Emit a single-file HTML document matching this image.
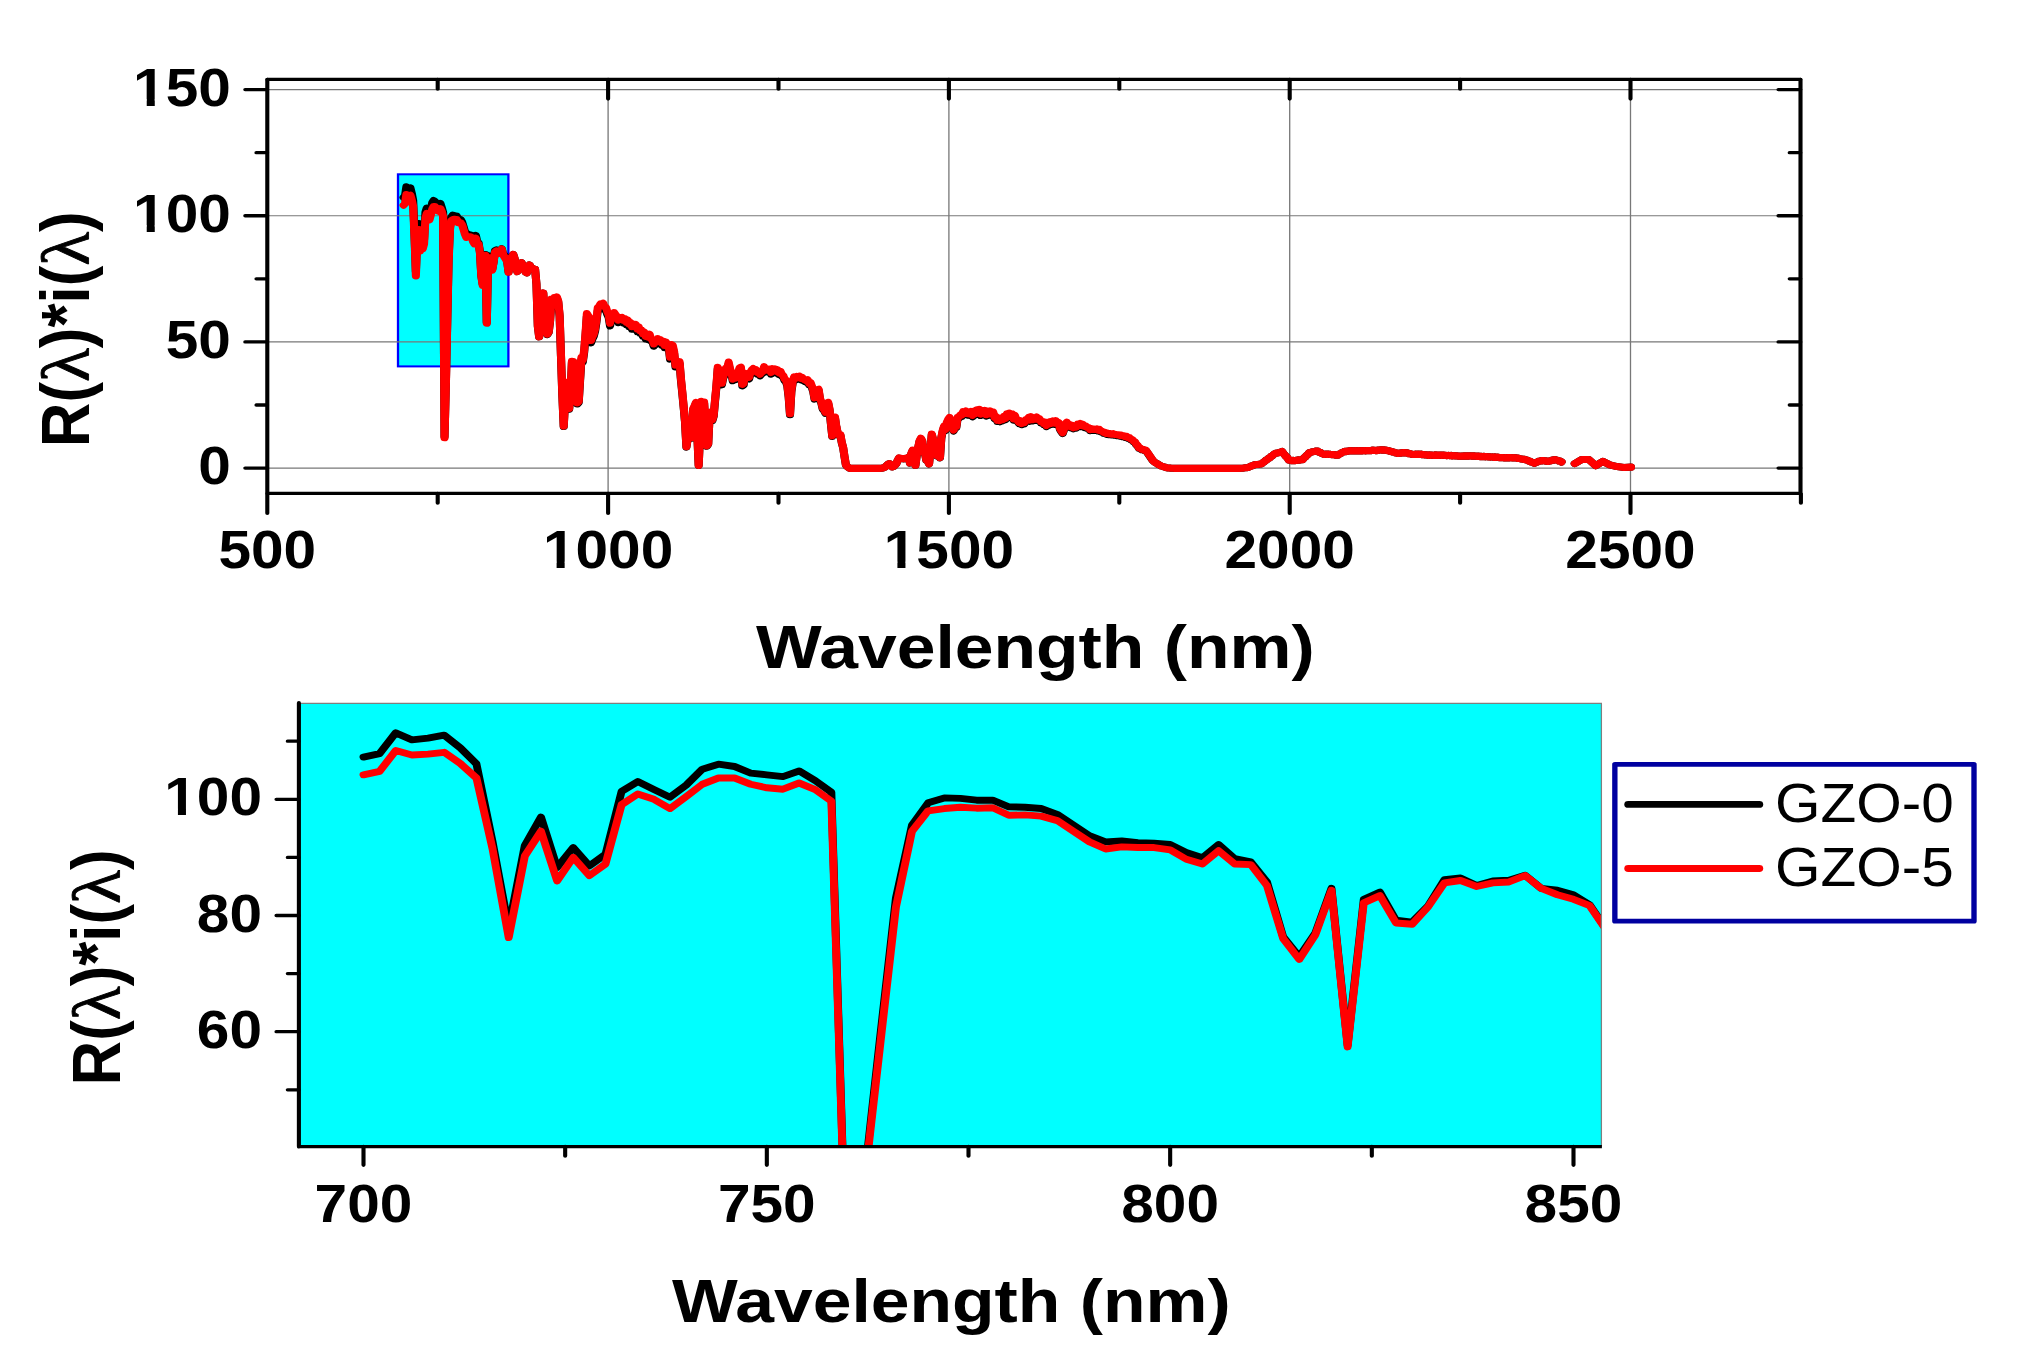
<!DOCTYPE html>
<html lang="en"><head><meta charset="utf-8"><title>R(λ)*i(λ) vs Wavelength</title>
<style>html,body{margin:0;padding:0;background:#fff}body{width:2030px;height:1365px;overflow:hidden}svg{display:block}.b{font-family:"Liberation Sans",sans-serif;font-weight:bold;fill:#000}.r{font-family:"Liberation Sans",sans-serif;font-weight:normal;fill:#000}.lam{font-family:"Liberation Serif","DejaVu Serif",serif;font-weight:normal;font-style:normal;fill:#000}</style></head><body>
<svg width="2030" height="1365" viewBox="0 0 2030 1365">
<rect width="2030" height="1365" fill="#fff"/>
<g id="top-panel">
<g transform="scale(1.14 1)" fill="none">
<rect x="349.12" y="174.3" width="96.84" height="192.1" fill="#00ffff" stroke="#0000ff" stroke-width="2"/>
<path d="M234.47 468.1H1579.39M234.47 341.93H1579.39M234.47 215.77H1579.39M234.47 89.6H1579.39M533.42 79.45V493.45M832.37 79.45V493.45M1131.32 79.45V493.45M1430.26 79.45V493.45" stroke="#787878" stroke-width="1.15"/>
<clipPath id="ct"><rect x="234.47" y="79.45" width="1344.91" height="414"/></clipPath>
<g clip-path="url(#ct)" stroke-linejoin="round" stroke-linecap="round" stroke-width="7.1">
<polyline stroke="#000" points="354.05,197.44 355.25,195.9 356.44,186.89 357.64,189.97 358.84,189.2 360.03,187.89 361.23,193.44 362.42,200.37 363.62,234.26 364.81,271.61 366.01,235.8 367.21,223.47 368.4,245.42 369.6,236.72 370.79,244.65 371.99,239.65 373.19,212.31 374.38,208.07 375.58,211.54 376.77,214.85 377.97,209.61 379.16,202.68 380.36,200.52 381.56,201.52 382.75,204.37 383.95,205.14 385.14,205.91 386.34,203.45 387.53,207.68 388.73,212.69 389.93,436.56 391.12,383.57 392.32,320.49 393.51,258.66 394.71,226.94 395.91,217.31 397.1,215.15 398.3,215.39 399.49,216.16 400.69,216.16 401.88,219.01 403.08,219.24 404.28,219.78 405.47,222.32 406.67,226.94 407.86,231.56 409.06,234.26 410.25,233.87 411.45,234.64 412.65,234.87 413.84,235.41 415.04,238.88 416.23,241.19 417.43,235.41 418.63,241.57 419.82,242.96 421.02,251.67 422.21,275.42 423.41,284.13 424.6,273.84 425.8,254.44 427,322.52 428.19,259.19 429.39,256.02 430.58,268.29 431.78,269.09 432.97,261.96 434.17,250.72 435.37,249.93 436.56,253.25 437.76,251.28 438.95,250.88 440.15,248.74 441.35,254.44 442.54,255.23 443.74,257.21 444.93,261.57 446.13,271.86 447.85,258.13 449.05,256.77 450.24,254.44 451.44,258.78 452.63,266.36 453.83,271.63 455.03,265.89 456.22,264.29 457.42,262.66 458.61,265.06 459.81,265.8 461,272.18 462.2,272.81 463.4,268.4 464.59,264.98 465.79,267.72 466.98,267.95 468.18,269.54 469.37,269.26 470.57,284.06 471.77,326.08 472.96,336.81 474.16,312.49 475.35,298.51 476.55,293.11 477.75,314.66 478.94,323.71 480.14,334.6 481.33,332.41 482.53,321.04 483.72,299.85 484.92,301.58 486.12,298.82 487.31,300.71 488.51,298.34 489.7,302.33 490.9,316.38 492.09,356.41 493.29,395.94 494.49,426.55 495.68,401.36 496.88,383.32 498.07,398.29 499.27,409.32 500.47,394.33 501.66,362.85 502.86,362.98 504.05,374.84 505.25,388.97 506.44,404.03 507.64,402.53 508.84,380.48 510.03,359.48 511.23,361.99 512.42,352.37 513.62,336 514.81,316.34 516.01,318.66 517.21,320.25 518.4,342.86 519.6,339.13 520.79,336.42 521.99,331.19 523.19,322.22 524.38,310.5 525.58,309.19 526.77,307 527.97,307.62 529.16,306.29 530.36,309.8 531.56,310.24 532.75,314.5 533.95,317.54 535.14,325.88 536.34,319.05 537.53,318.53 538.73,315.47 539.93,317.33 541.12,319.14 542.32,322.68 543.51,320.16 544.71,321.75 545.91,320.32 547.1,322.99 548.3,321.51 549.49,324.9 550.69,322.7 551.88,326.7 553.08,325.13 554.28,329.23 555.47,326.69 556.67,328.9 557.86,327.17 559.06,331.64 560.25,329.41 561.45,333.06 562.65,332.62 563.84,336.09 565.04,334.57 566.23,338.8 567.43,337.18 568.63,339.51 569.82,336.66 571.02,341.06 572.21,341.41 573.41,346.24 574.6,342.78 575.8,344.2 577,340.95 578.19,343.55 579.39,342.04 580.58,345.42 581.78,343.6 582.97,347.63 584.17,344.28 585.37,347.99 586.56,347.04 587.76,359.09 588.95,346.79 590.15,347.67 591.35,353.67 592.54,366.93 593.74,365.92 594.93,365.51 596.13,363.54 597.32,380.08 598.52,393.33 599.72,407.46 600.91,422.25 602.11,447.09 603.3,438.49 604.5,425.28 605.69,423.21 606.89,438.14 608.09,409.76 609.28,406.95 610.48,403.48 611.67,435.01 612.87,465.41 614.07,434.69 615.26,402.56 616.46,403.45 617.65,403.31 618.85,427.13 620.04,446.27 621.24,444.17 622.44,416.48 623.63,412.92 624.83,420.76 626.02,416.36 627.22,401.19 628.41,387.5 629.61,369.11 630.81,373.29 632,378.48 633.2,384.8 634.39,378.14 635.59,375.01 636.79,369.82 637.98,369.8 639.18,364.01 640.37,370.56 641.57,374.12 642.76,380.77 643.96,378.97 645.16,379.64 646.35,377.49 647.55,374.29 648.74,369.57 649.94,368.94 651.13,385.87 652.33,384.96 653.53,375.03 654.72,377.45 655.92,377.83 657.11,378.88 658.31,373.94 659.51,371.68 660.7,370.4 661.9,372.78 663.09,371.63 664.29,374.18 665.48,373.74 666.68,375.9 667.88,374.02 669.07,373.25 670.27,368.5 671.46,371.66 672.66,370.85 673.85,372.11 675.05,371.01 676.25,374.19 677.44,370.46 678.64,372.57 679.83,370.83 681.03,373.07 682.23,371.87 683.42,374.42 684.62,373.15 685.81,376.09 687.01,377.17 688.2,380.56 689.4,381.64 690.6,385.79 691.79,396.88 692.99,414.77 694.18,391.91 695.38,382.8 696.57,378.56 697.77,380.03 698.97,378.11 700.16,379.14 701.36,378.03 702.55,379.85 703.75,379.04 704.95,380.74 706.14,381.57 707.34,382.27 708.53,381.38 709.73,384.86 710.92,383.94 712.12,387.42 713.32,391.5 714.51,399.1 715.71,393.45 716.9,391.22 718.1,390.71 719.29,399.57 720.49,403.18 721.69,409.04 722.88,410.6 724.08,413.31 725.27,408.09 726.47,403.45 727.67,410.11 728.86,423.68 730.06,436.4 731.25,430.92 732.45,418.08 733.64,427.33 734.84,433.24 736.04,435.69 737.23,435.51 738.43,442.96 739.62,447.85 740.82,456.86 742.01,464.89 743.21,466.63 744.41,467.65 745.6,468.35 746.8,468.35 747.99,468.35 749.19,468.35 750.39,468.35 751.58,468.35 752.78,468.35 753.97,468.35 755.17,468.35 756.36,468.35 757.56,468.35 758.76,468.35 759.95,468.35 761.15,468.35 762.34,468.35 763.54,468.35 764.73,468.35 765.93,468.35 767.13,468.35 768.32,468.35 769.52,468.35 770.71,468.35 771.91,468.35 773.11,468.32 774.3,467.98 775.5,467.64 776.69,466.77 777.89,465.47 779.08,464.14 780.28,463.69 781.48,465.35 782.67,466.98 783.87,466.5 785.06,465.21 786.26,463.65 787.45,460.55 788.65,458.11 789.85,458.38 791.04,458.64 792.24,458.91 793.43,458.66 794.63,458.39 795.83,458.13 797.02,457.51 798.22,463.03 799.41,453.82 800.61,450.59 801.8,455.42 803,465.29 804.2,455.13 805.39,448.18 806.59,441.59 807.78,438.9 808.98,441.49 810.17,452.58 811.37,453.2 812.57,460.29 813.76,461.01 814.96,464 816.15,450.87 817.35,434.83 818.55,440.15 819.74,449.44 820.94,451.17 822.13,456.05 823.33,453.99 824.52,457.91 825.72,438.26 826.92,431.66 828.11,427.15 829.31,430.7 830.5,423.67 831.7,420.76 832.89,418.71 834.09,424.83 835.29,427.39 836.48,431.01 837.68,427.76 838.87,427.59 840.07,418.34 841.27,418.05 842.46,416.11 843.66,416.4 844.85,413.18 846.05,414.09 847.24,412.4 848.44,415.14 849.64,415.15 850.83,415.43 852.03,412.82 853.22,416.74 854.42,412.49 855.61,415.07 856.81,411.34 858.01,413.76 859.2,410.85 860.4,415.49 861.59,411.74 862.79,414.3 863.99,411.87 865.18,416.06 866.38,412.62 867.57,415.32 868.77,412.45 869.96,415.49 871.16,413.31 872.36,418.52 873.55,417.75 874.75,421.43 875.94,419.81 877.14,421.7 878.33,419.08 879.53,420.71 880.73,417.66 881.92,419.71 883.12,415.34 884.31,417.78 885.51,414.54 886.71,417.82 887.9,415.19 889.1,420.06 890.29,416.75 891.49,420.63 892.68,421.84 893.88,423.59 895.08,422.01 896.27,424.67 897.47,423.02 898.66,423.71 899.86,420.83 901.05,420.69 902.25,418.73 903.45,421.31 904.64,418.03 905.84,420.87 907.03,419.59 908.23,420.33 909.43,418.36 910.62,420.77 911.82,419.94 913.01,422.84 914.21,422.52 915.4,424.52 916.6,423.38 917.8,426.62 918.99,423.48 920.19,425.08 921.38,422.94 922.58,424.26 923.77,422.12 924.97,424.18 926.17,421.83 927.36,424.5 928.56,423.56 929.75,429.33 930.95,431.7 932.15,433.58 933.34,429.84 934.54,425 935.73,423.36 936.93,427.05 938.12,425.59 939.32,427.71 940.52,426.62 941.71,428.7 942.91,426.72 944.1,428.05 945.3,425.32 946.49,426.64 947.69,424.62 948.89,426.54 950.08,425.62 951.28,427.52 952.47,427.08 953.67,428.48 954.87,428.47 956.06,430.59 957.26,429.56 958.45,430.46 959.65,429.97 960.84,430.5 962.04,429.94 963.24,431.02 964.43,430.45 965.63,431.82 966.82,432.2 968.02,433.26 969.21,433.32 970.41,434.31 971.61,433.97 972.8,434.74 974,434.32 975.19,435.01 976.39,434.48 977.59,435.32 978.78,435.38 979.98,435.69 981.17,435.73 982.37,436.15 983.56,435.89 984.76,436.73 985.96,436.51 987.15,437.51 988.35,437.22 989.54,438.4 990.74,438.36 991.93,439.83 993.13,440.23 994.33,441.73 995.52,442.53 996.72,444.8 997.91,446.02 999.11,448.37 1000.31,448.71 1001.5,449.72 1002.7,449.66 1003.89,450.7 1005.09,450.56 1006.28,452.36 1007.48,454.35 1008.68,456.35 1009.87,458.34 1011.07,460.33 1012.26,461.68 1013.46,462.53 1014.65,463.38 1015.85,464.23 1017.05,465.08 1018.24,465.83 1019.44,466.27 1020.63,466.72 1021.83,467.16 1023.03,467.6 1024.22,468.01 1025.42,468.08 1026.61,468.14 1027.81,468.21 1029,468.28 1030.2,468.35 1031.4,468.35 1032.59,468.35 1033.79,468.35 1034.98,468.35 1036.18,468.35 1037.37,468.35 1038.57,468.35 1039.77,468.35 1040.96,468.35 1042.16,468.35 1043.35,468.35 1044.55,468.35 1045.75,468.35 1046.94,468.35 1048.14,468.35 1049.33,468.35 1050.53,468.35 1051.72,468.35 1052.92,468.35 1054.12,468.35 1055.31,468.35 1056.51,468.35 1057.7,468.35 1058.9,468.35 1060.09,468.35 1061.29,468.35 1062.49,468.35 1063.68,468.35 1064.88,468.35 1066.07,468.35 1067.27,468.35 1068.47,468.35 1069.66,468.35 1070.86,468.35 1072.05,468.35 1073.25,468.35 1074.44,468.35 1075.64,468.35 1076.84,468.35 1078.03,468.35 1079.23,468.35 1080.42,468.35 1081.62,468.35 1082.81,468.35 1084.01,468.35 1085.21,468.35 1086.4,468.35 1087.6,468.35 1088.79,468.32 1089.99,468.15 1091.19,467.98 1092.38,467.81 1093.58,467.64 1094.77,467.46 1095.97,466.88 1097.16,466.3 1098.36,465.71 1099.56,465.13 1100.75,464.75 1101.95,464.58 1103.14,464.41 1104.34,464.24 1105.53,464.07 1106.73,463.61 1107.93,462.43 1109.12,461.68 1110.32,460.36 1111.51,459.64 1112.71,458.39 1113.91,457.76 1115.1,456.31 1116.3,455.63 1117.49,454.14 1118.69,453.57 1119.88,452.94 1121.08,452.98 1122.28,452.27 1123.47,452.29 1124.67,451.44 1125.86,453.54 1127.06,454.94 1128.25,456.7 1129.45,457.99 1130.65,460.18 1131.84,460.22 1133.04,460.7 1134.23,460.28 1135.43,460.74 1136.63,460.4 1137.82,460.39 1139.02,459.81 1140.21,460.15 1141.41,459.45 1142.6,459.67 1143.8,457.93 1145,457.03 1146.19,455.23 1147.39,454.31 1148.58,452.51 1149.78,452.45 1150.97,451.74 1152.17,451.67 1153.37,451.35 1154.56,450.99 1155.76,451.08 1156.95,452.32 1158.15,452.38 1159.35,453.54 1160.54,453.86 1161.74,454.46 1162.93,454.02 1164.13,454.4 1165.32,454 1166.52,454.41 1167.72,454.5 1168.91,454.8 1170.11,454.46 1171.3,455.09 1172.5,455.18 1173.69,455.24 1174.89,454.03 1176.09,453.53 1177.28,452.48 1178.48,452.04 1179.67,451.21 1180.87,451.59 1182.07,451.01 1183.26,451.12 1184.46,450.59 1185.65,450.98 1186.85,450.77 1188.04,451.04 1189.24,450.66 1190.44,451.03 1191.63,450.66 1192.83,450.97 1194.02,450.63 1195.22,450.94 1196.41,450.61 1197.61,450.93 1198.81,450.48 1200,450.77 1201.2,450.43 1202.39,450.72 1203.59,450.16 1204.79,450.5 1205.98,450.22 1207.18,450.73 1208.37,449.98 1209.57,450.35 1210.76,449.83 1211.96,450.11 1213.16,449.7 1214.35,450.3 1215.55,450.1 1216.74,450.64 1217.94,450.49 1219.13,451.25 1220.33,451.26 1221.53,452.06 1222.72,452.06 1223.92,452.89 1225.11,452.91 1226.31,453.48 1227.51,453.02 1228.7,453.21 1229.9,452.66 1231.09,452.96 1232.29,452.47 1233.48,453.02 1234.68,452.9 1235.88,453.75 1237.07,453.66 1238.27,454.24 1239.46,454.38 1240.66,454.47 1241.85,454.04 1243.05,454.52 1244.25,454.15 1245.44,454.47 1246.64,454.12 1247.83,454.76 1249.03,454.49 1250.23,455.06 1251.42,454.69 1252.62,455.36 1253.81,454.93 1255.01,455.33 1256.2,455.04 1257.4,455.42 1258.6,454.93 1259.79,455.35 1260.99,454.94 1262.18,455.4 1263.38,455.02 1264.57,455.42 1265.77,454.97 1266.97,455.36 1268.16,455.19 1269.36,455.69 1270.55,455.35 1271.75,455.76 1272.95,455.42 1274.14,455.97 1275.34,455.59 1276.53,456 1277.73,455.75 1278.92,456.13 1280.12,456.14 1281.32,456.2 1282.51,455.94 1283.71,456.23 1284.9,455.87 1286.1,456.19 1287.29,455.75 1288.49,456.19 1289.69,455.86 1290.88,456.18 1292.08,455.79 1293.27,456.32 1294.47,456.04 1295.67,456.43 1296.86,456.06 1298.06,456.59 1299.25,456.25 1300.45,456.8 1301.64,456.33 1302.84,456.85 1304.04,456.55 1305.23,456.91 1306.43,456.71 1307.62,457.11 1308.82,456.84 1310.01,457.35 1311.21,456.91 1312.41,457.4 1313.6,457.09 1314.8,457.59 1315.99,457.58 1317.19,457.74 1318.39,457.48 1319.58,457.92 1320.78,457.65 1321.97,457.98 1323.17,457.52 1324.36,457.94 1325.56,457.58 1326.76,458.04 1327.95,457.54 1329.15,457.99 1330.34,457.87 1331.54,458.5 1332.73,458.32 1333.93,458.91 1335.13,459.05 1336.32,459.41 1337.52,459.24 1338.71,460.03 1339.91,460.25 1341.11,461.1 1342.3,461.21 1343.5,462.18 1344.69,462.52 1345.89,463.3 1347.08,462.44 1348.28,462.28 1349.48,461.36 1350.67,461.23 1351.87,460.5 1353.06,460.83 1354.26,460.58 1355.45,461.11 1356.65,460.89 1357.85,461.42 1359.04,460.89 1360.24,461.01 1361.43,460.13 1362.63,460.26 1363.83,459.51 1365.02,460.07 1366.22,460.18 1367.41,461.02 1368.61,461.14 1369.8,462"/>
<polyline stroke="#000" points="1381.34,463.6 1387.51,459.56 1393.68,459.56 1399.85,465.71 1406.02,461.32 1412.18,464.84 1418.35,466.59 1424.52,467.47 1430.69,467.12"/>
<polyline stroke="#ff0000" points="354.05,205.14 355.25,203.6 356.44,194.59 357.64,196.52 358.84,196.13 360.03,195.36 361.23,200.21 362.42,206.53 363.62,237.34 364.81,275.85 366.01,240.42 367.21,229.63 368.4,251.2 369.6,241.03 370.79,248.89 371.99,243.88 373.19,218.08 374.38,213.46 375.58,215.77 376.77,219.78 377.97,214.62 379.16,209.22 380.36,206.53 381.56,206.53 382.75,209.22 383.95,210.76 385.14,211.38 386.34,208.69 387.53,211.54 388.73,216.54 389.93,437.82 391.12,385.59 392.32,324.02 393.51,262.7 394.71,229.63 395.91,220.78 397.1,219.78 398.3,219.24 399.49,219.62 400.69,219.47 401.88,222.7 403.08,222.55 404.28,223.09 405.47,225.01 406.67,229.63 407.86,234.26 409.06,237.34 410.25,236.41 411.45,236.72 412.65,236.72 413.84,237.72 415.04,241.8 416.23,243.88 417.43,238.11 418.63,243.88 419.82,244.15 421.02,253.25 422.21,276.21 423.41,285.31 424.6,274.63 425.8,255.23 427,323.31 428.19,260.77 429.39,257.61 430.58,269.48 431.78,270.04 432.97,262.36 434.17,252.07 435.37,251.04 436.56,253.65 437.76,252.07 438.95,251.67 440.15,248.9 441.35,254.44 442.54,257.21 443.74,259.19 444.93,261.96 446.13,272.25 447.85,258.13 449.05,256.77 450.24,254.44 451.44,258.78 452.63,266.36 453.83,271.63 455.03,265.89 456.22,264.29 457.42,262.66 458.61,265.06 459.81,265.8 461,272.18 462.2,272.81 463.4,268.4 464.59,264.98 465.79,267.72 466.98,267.95 468.18,269.54 469.37,269.26 470.57,284.06 471.77,326.08 472.96,336.81 474.16,312.45 475.35,298.37 476.55,292.86 477.75,314.34 478.94,323.33 480.14,334.16 481.33,331.88 482.53,320.38 483.72,299 484.92,300.63 486.12,297.75 487.31,299.56 488.51,297.06 489.7,300.99 490.9,315.05 492.09,355.37 493.29,395.22 494.49,426.11 495.68,400.61 496.88,382.32 498.07,397.42 499.27,408.56 500.47,393.32 501.66,361.35 502.86,361.42 504.05,373.39 505.25,387.69 506.44,402.96 507.64,401.39 508.84,378.9 510.03,357.49 511.23,360.05 512.42,350.25 513.62,333.58 514.81,313.56 516.01,315.92 517.21,317.54 518.4,340.56 519.6,336.77 520.79,334 521.99,328.68 523.19,319.55 524.38,307.61 525.58,306.27 526.77,304.05 527.97,304.68 529.16,303.33 530.36,306.9 531.56,307.35 532.75,311.68 533.95,314.78 535.14,323.27 536.34,316.32 537.53,315.79 538.73,312.67 539.93,314.56 541.12,316.41 542.32,320.02 543.51,317.44 544.71,319.06 545.91,317.61 547.1,320.33 548.3,318.82 549.49,322.28 550.69,320.04 551.88,324.1 553.08,322.51 554.28,326.69 555.47,324.1 556.67,326.35 557.86,324.59 559.06,329.14 560.25,326.86 561.45,330.59 562.65,330.13 563.84,333.68 565.04,332.12 566.23,336.43 567.43,334.78 568.63,337.16 569.82,334.25 571.02,338.73 572.21,339.09 573.41,344 574.6,340.49 575.8,341.93 577,338.62 578.19,341.27 579.39,339.73 580.58,343.17 581.78,341.31 582.97,345.42 584.17,342.01 585.37,345.79 586.56,344.82 587.76,357.09 588.95,344.56 590.15,345.46 591.35,351.57 592.54,365.07 593.74,364.05 594.93,363.63 596.13,361.63 597.32,378.46 598.52,391.96 599.72,406.34 600.91,421.41 602.11,446.7 603.3,437.95 604.5,424.49 605.69,422.39 606.89,437.6 608.09,408.69 609.28,405.83 610.48,402.29 611.67,434.41 612.87,465.36 614.07,434.08 615.26,401.36 616.46,402.26 617.65,402.12 618.85,426.38 620.04,445.87 621.24,443.73 622.44,415.54 623.63,411.91 624.83,419.89 626.02,415.41 627.22,399.96 628.41,386.02 629.61,367.3 630.81,371.55 632,376.84 633.2,383.27 634.39,376.49 635.59,373.3 636.79,368.02 637.98,368 639.18,362.1 640.37,368.77 641.57,372.4 642.76,379.17 643.96,377.34 645.16,378.02 646.35,375.83 647.55,372.57 648.74,367.77 649.94,367.13 651.13,384.37 652.33,383.44 653.53,373.32 654.72,375.79 655.92,376.18 657.11,377.24 658.31,372.21 659.51,369.91 660.7,368.6 661.9,371.03 663.09,369.86 664.29,372.46 665.48,372.01 666.68,374.21 667.88,372.3 669.07,371.51 670.27,366.68 671.46,369.89 672.66,369.06 673.85,370.35 675.05,369.23 676.25,372.47 677.44,368.67 678.64,370.82 679.83,369.05 681.03,371.33 682.23,370.11 683.42,372.71 684.62,371.41 685.81,374.4 687.01,375.5 688.2,378.95 689.4,380.06 690.6,384.28 691.79,395.57 692.99,413.8 694.18,390.51 695.38,381.24 696.57,376.92 697.77,378.41 698.97,376.46 700.16,377.51 701.36,376.38 702.55,378.23 703.75,377.41 704.95,379.14 706.14,379.98 707.34,380.7 708.53,379.79 709.73,383.33 710.92,382.4 712.12,385.94 713.32,390.1 714.51,397.84 715.71,392.09 716.9,389.81 718.1,389.29 719.29,398.32 720.49,401.99 721.69,407.95 722.88,409.55 724.08,412.31 725.27,406.99 726.47,402.27 727.67,409.05 728.86,422.86 730.06,435.82 731.25,430.24 732.45,417.16 733.64,426.58 734.84,432.6 736.04,435.1 737.23,434.91 738.43,442.5 739.62,447.48 740.82,456.65 742.01,464.83 743.21,466.63 744.41,467.65 745.6,468.35 746.8,468.35 747.99,468.35 749.19,468.35 750.39,468.35 751.58,468.35 752.78,468.35 753.97,468.35 755.17,468.35 756.36,468.35 757.56,468.35 758.76,468.35 759.95,468.35 761.15,468.35 762.34,468.35 763.54,468.35 764.73,468.35 765.93,468.35 767.13,468.35 768.32,468.35 769.52,468.35 770.71,468.35 771.91,468.35 773.11,468.32 774.3,467.98 775.5,467.64 776.69,466.77 777.89,465.41 779.08,464.04 780.28,463.57 781.48,465.28 782.67,466.98 783.87,466.5 785.06,465.14 786.26,463.53 787.45,460.35 788.65,457.86 789.85,458.13 791.04,458.4 792.24,458.67 793.43,458.42 794.63,458.14 795.83,457.87 797.02,457.24 798.22,462.9 799.41,453.45 800.61,450.14 801.8,455.1 803,465.22 804.2,454.8 805.39,447.67 806.59,440.91 807.78,438.16 808.98,440.81 810.17,452.18 811.37,452.82 812.57,460.09 813.76,460.83 814.96,463.9 816.15,450.43 817.35,433.98 818.55,439.43 819.74,448.96 820.94,450.73 822.13,455.74 823.33,453.63 824.52,457.65 825.72,437.49 826.92,430.72 828.11,426.1 829.31,429.74 830.5,422.53 831.7,419.55 832.89,417.44 834.09,423.72 835.29,426.35 836.48,430.06 837.68,426.73 838.87,426.56 840.07,417.07 841.27,416.76 842.46,414.77 843.66,415.07 844.85,411.78 846.05,412.7 847.24,410.97 848.44,413.78 849.64,413.79 850.83,414.08 852.03,411.41 853.22,415.42 854.42,411.06 855.61,413.71 856.81,409.89 858.01,412.36 859.2,409.38 860.4,414.14 861.59,410.29 862.79,412.92 863.99,410.43 865.18,414.72 866.38,411.19 867.57,413.97 868.77,411.02 869.96,414.14 871.16,411.9 872.36,417.25 873.55,416.46 874.75,420.24 875.94,418.57 877.14,420.51 878.33,417.82 879.53,419.5 880.73,416.37 881.92,418.47 883.12,413.99 884.31,416.49 885.51,413.16 886.71,416.53 887.9,413.83 889.1,418.83 890.29,415.43 891.49,419.41 892.68,420.66 893.88,422.45 895.08,420.83 896.27,423.56 897.47,421.87 898.66,422.57 899.86,419.61 901.05,419.48 902.25,417.47 903.45,420.11 904.64,416.74 905.84,419.66 907.03,418.35 908.23,419.11 909.43,417.08 910.62,419.56 911.82,418.7 913.01,421.68 914.21,421.35 915.4,423.4 916.6,422.24 917.8,425.55 918.99,422.34 920.19,423.97 921.38,421.78 922.58,423.14 923.77,420.94 924.97,423.05 926.17,420.64 927.36,423.38 928.56,422.42 929.75,428.34 930.95,430.76 932.15,432.69 933.34,428.85 934.54,423.9 935.73,422.22 936.93,425.99 938.12,424.5 939.32,426.67 940.52,425.56 941.71,427.69 942.91,425.66 944.1,427.02 945.3,424.22 946.49,425.58 947.69,423.51 948.89,425.47 950.08,424.53 951.28,426.48 952.47,426.03 953.67,427.46 954.87,427.46 956.06,429.63 957.26,428.58 958.45,429.5 959.65,428.99 960.84,429.53 962.04,428.96 963.24,430.07 964.43,429.48 965.63,430.89 966.82,431.28 968.02,432.36 969.21,432.42 970.41,433.44 971.61,433.1 972.8,433.88 974,433.45 975.19,434.16 976.39,433.62 977.59,434.48 978.78,434.54 979.98,434.86 981.17,434.9 982.37,435.33 983.56,435.06 984.76,435.92 985.96,435.7 987.15,436.73 988.35,436.43 989.54,437.64 990.74,437.6 991.93,439.1 993.13,439.52 994.33,441.05 995.52,441.88 996.72,444.2 997.91,445.45 999.11,447.86 1000.31,448.21 1001.5,449.25 1002.7,449.18 1003.89,450.26 1005.09,450.11 1006.28,451.95 1007.48,454 1008.68,456.04 1009.87,458.09 1011.07,460.13 1012.26,461.68 1013.46,462.53 1014.65,463.38 1015.85,464.23 1017.05,465.08 1018.24,465.83 1019.44,466.27 1020.63,466.72 1021.83,467.16 1023.03,467.6 1024.22,468.01 1025.42,468.08 1026.61,468.14 1027.81,468.21 1029,468.28 1030.2,468.35 1031.4,468.35 1032.59,468.35 1033.79,468.35 1034.98,468.35 1036.18,468.35 1037.37,468.35 1038.57,468.35 1039.77,468.35 1040.96,468.35 1042.16,468.35 1043.35,468.35 1044.55,468.35 1045.75,468.35 1046.94,468.35 1048.14,468.35 1049.33,468.35 1050.53,468.35 1051.72,468.35 1052.92,468.35 1054.12,468.35 1055.31,468.35 1056.51,468.35 1057.7,468.35 1058.9,468.35 1060.09,468.35 1061.29,468.35 1062.49,468.35 1063.68,468.35 1064.88,468.35 1066.07,468.35 1067.27,468.35 1068.47,468.35 1069.66,468.35 1070.86,468.35 1072.05,468.35 1073.25,468.35 1074.44,468.35 1075.64,468.35 1076.84,468.35 1078.03,468.35 1079.23,468.35 1080.42,468.35 1081.62,468.35 1082.81,468.35 1084.01,468.35 1085.21,468.35 1086.4,468.35 1087.6,468.35 1088.79,468.32 1089.99,468.15 1091.19,467.98 1092.38,467.81 1093.58,467.64 1094.77,467.46 1095.97,466.88 1097.16,466.3 1098.36,465.71 1099.56,465.13 1100.75,464.75 1101.95,464.58 1103.14,464.41 1104.34,464.24 1105.53,464.07 1106.73,463.61 1107.93,462.43 1109.12,461.68 1110.32,460.36 1111.51,459.64 1112.71,458.39 1113.91,457.76 1115.1,456.31 1116.3,455.63 1117.49,454.14 1118.69,453.57 1119.88,452.94 1121.08,452.98 1122.28,452.27 1123.47,452.29 1124.67,451.44 1125.86,453.54 1127.06,454.94 1128.25,456.7 1129.45,457.99 1130.65,460.18 1131.84,460.22 1133.04,460.7 1134.23,460.28 1135.43,460.74 1136.63,460.4 1137.82,460.39 1139.02,459.81 1140.21,460.15 1141.41,459.45 1142.6,459.67 1143.8,457.93 1145,457.03 1146.19,455.23 1147.39,454.31 1148.58,452.51 1149.78,452.45 1150.97,451.74 1152.17,451.67 1153.37,451.35 1154.56,450.99 1155.76,451.08 1156.95,452.32 1158.15,452.38 1159.35,453.54 1160.54,453.86 1161.74,454.46 1162.93,454.02 1164.13,454.4 1165.32,454 1166.52,454.41 1167.72,454.5 1168.91,454.8 1170.11,454.46 1171.3,455.09 1172.5,455.18 1173.69,455.24 1174.89,454.03 1176.09,453.53 1177.28,452.48 1178.48,452.04 1179.67,451.21 1180.87,451.59 1182.07,451.01 1183.26,451.12 1184.46,450.59 1185.65,450.98 1186.85,450.77 1188.04,451.04 1189.24,450.66 1190.44,451.03 1191.63,450.66 1192.83,450.97 1194.02,450.63 1195.22,450.94 1196.41,450.61 1197.61,450.93 1198.81,450.48 1200,450.77 1201.2,450.43 1202.39,450.72 1203.59,450.16 1204.79,450.5 1205.98,450.22 1207.18,450.73 1208.37,449.98 1209.57,450.35 1210.76,449.83 1211.96,450.11 1213.16,449.7 1214.35,450.3 1215.55,450.1 1216.74,450.64 1217.94,450.49 1219.13,451.25 1220.33,451.26 1221.53,452.06 1222.72,452.06 1223.92,452.89 1225.11,452.91 1226.31,453.48 1227.51,453.02 1228.7,453.21 1229.9,452.66 1231.09,452.96 1232.29,452.47 1233.48,453.02 1234.68,452.9 1235.88,453.75 1237.07,453.66 1238.27,454.24 1239.46,454.38 1240.66,454.47 1241.85,454.04 1243.05,454.52 1244.25,454.15 1245.44,454.47 1246.64,454.12 1247.83,454.76 1249.03,454.49 1250.23,455.06 1251.42,454.69 1252.62,455.36 1253.81,454.93 1255.01,455.33 1256.2,455.04 1257.4,455.42 1258.6,454.93 1259.79,455.35 1260.99,454.94 1262.18,455.4 1263.38,455.02 1264.57,455.42 1265.77,454.97 1266.97,455.36 1268.16,455.19 1269.36,455.69 1270.55,455.35 1271.75,455.76 1272.95,455.42 1274.14,455.97 1275.34,455.59 1276.53,456 1277.73,455.75 1278.92,456.13 1280.12,456.14 1281.32,456.2 1282.51,455.94 1283.71,456.23 1284.9,455.87 1286.1,456.19 1287.29,455.75 1288.49,456.19 1289.69,455.86 1290.88,456.18 1292.08,455.79 1293.27,456.32 1294.47,456.04 1295.67,456.43 1296.86,456.06 1298.06,456.59 1299.25,456.25 1300.45,456.8 1301.64,456.33 1302.84,456.85 1304.04,456.55 1305.23,456.91 1306.43,456.71 1307.62,457.11 1308.82,456.84 1310.01,457.35 1311.21,456.91 1312.41,457.4 1313.6,457.09 1314.8,457.59 1315.99,457.58 1317.19,457.74 1318.39,457.48 1319.58,457.92 1320.78,457.65 1321.97,457.98 1323.17,457.52 1324.36,457.94 1325.56,457.58 1326.76,458.04 1327.95,457.54 1329.15,457.99 1330.34,457.87 1331.54,458.5 1332.73,458.32 1333.93,458.91 1335.13,459.05 1336.32,459.41 1337.52,459.24 1338.71,460.03 1339.91,460.25 1341.11,461.1 1342.3,461.21 1343.5,462.18 1344.69,462.52 1345.89,463.3 1347.08,462.44 1348.28,462.28 1349.48,461.36 1350.67,461.23 1351.87,460.5 1353.06,460.83 1354.26,460.58 1355.45,461.11 1356.65,460.89 1357.85,461.42 1359.04,460.89 1360.24,461.01 1361.43,460.13 1362.63,460.26 1363.83,459.51 1365.02,460.07 1366.22,460.18 1367.41,461.02 1368.61,461.14 1369.8,462"/>
<polyline stroke="#ff0000" points="1381.34,463.6 1387.51,459.56 1393.68,459.56 1399.85,465.71 1406.02,461.32 1412.18,464.84 1418.35,466.59 1424.52,467.47 1430.69,467.12"/>
</g>
<path d="M234.47 79.45H1579.39M234.47 493.45H1579.39M234.47 468.1H215M1579.39 468.1H1559.91M234.47 405.02H224.82M1579.39 405.02H1569.74M234.47 341.93H215M1579.39 341.93H1559.91M234.47 278.85H224.82M1579.39 278.85H1569.74M234.47 215.77H215M1579.39 215.77H1559.91M234.47 152.68H224.82M1579.39 152.68H1569.74M234.47 89.6H215M1579.39 89.6H1559.91" stroke="#000" stroke-width="3.3" stroke-linecap="round"/>
<path d="M234.47 79.45V493.45M1579.39 79.45V493.45M234.47 493.45V513.25M383.95 79.45V89.05M383.95 493.45V503.05M533.42 79.45V98.85M533.42 493.45V513.25M682.89 79.45V89.05M682.89 493.45V503.05M832.37 79.45V98.85M832.37 493.45V513.25M981.84 79.45V89.05M981.84 493.45V503.05M1131.32 79.45V98.85M1131.32 493.45V513.25M1280.79 79.45V89.05M1280.79 493.45V503.05M1430.26 79.45V98.85M1430.26 493.45V513.25M1579.74 493.45V503.05" stroke="#000" stroke-width="3.6" stroke-linecap="round"/>
</g>
<text class="b" transform="translate(230.8 484.3) scale(1.075 1)" font-size="54.5" text-anchor="end">0</text>
<text class="b" transform="translate(230.8 358.13) scale(1.075 1)" font-size="54.5" text-anchor="end">50</text>
<text class="b" transform="translate(230.8 231.97) scale(1.075 1)" font-size="54.5" text-anchor="end">100</text>
<path transform="translate(230.8 231.97) scale(1.075 1)" fill="#fff" d="M-88.4 -6.66H-78.21V1H-88.4ZM-70.73 -6.66H-61.26V1H-70.73Z"/>
<text class="b" transform="translate(230.8 105.8) scale(1.075 1)" font-size="54.5" text-anchor="end">150</text>
<path transform="translate(230.8 105.8) scale(1.075 1)" fill="#fff" d="M-88.4 -6.66H-78.21V1H-88.4ZM-70.73 -6.66H-61.26V1H-70.73Z"/>
<text class="b" transform="translate(267.3 568.3) scale(1.075 1)" font-size="54.5" text-anchor="middle">500</text>
<text class="b" transform="translate(608.1 568.3) scale(1.075 1)" font-size="54.5" text-anchor="middle">1000</text>
<path transform="translate(608.1 568.3) scale(1.075 1)" fill="#fff" d="M-58.09 -6.66H-47.9V1H-58.09ZM-40.42 -6.66H-30.95V1H-40.42Z"/>
<text class="b" transform="translate(948.9 568.3) scale(1.075 1)" font-size="54.5" text-anchor="middle">1500</text>
<path transform="translate(948.9 568.3) scale(1.075 1)" fill="#fff" d="M-58.09 -6.66H-47.9V1H-58.09ZM-40.42 -6.66H-30.95V1H-40.42Z"/>
<text class="b" transform="translate(1289.7 568.3) scale(1.075 1)" font-size="54.5" text-anchor="middle">2000</text>
<text class="b" transform="translate(1630.5 568.3) scale(1.075 1)" font-size="54.5" text-anchor="middle">2500</text>
<text class="b" transform="translate(1035.3 668.3) scale(1.133 1)" font-size="61.5" text-anchor="middle">Wavelength (nm)</text>
<g font-size="61.8">
<text class="b" transform="translate(88.6 447.2) scale(1.097 1) rotate(-90)">R(</text>
<text class="lam" stroke="#000" stroke-width="0.8" transform="translate(88.6 381.99) scale(1.097 1) rotate(-90) scale(1.13 1)">λ</text>
<text class="b" transform="translate(88.6 348.13) scale(1.097 1) rotate(-90)">)*i(</text>
<text class="lam" stroke="#000" stroke-width="0.8" transform="translate(88.6 265.75) scale(1.097 1) rotate(-90) scale(1.13 1)">λ</text>
<text class="b" transform="translate(88.6 231.88) scale(1.097 1) rotate(-90)">)</text>
</g>
</g>
<g id="bottom-panel">
<g transform="scale(1.14 1)" fill="none">
<rect x="262.19" y="703.4" width="1142.54" height="443.2" fill="#00ffff"/>
<clipPath id="cb"><rect x="262.19" y="703.4" width="1142.54" height="443.2"/></clipPath>
<g clip-path="url(#cb)" stroke-linejoin="round" stroke-linecap="round" stroke-width="6.9">
<polyline stroke="#000" points="318.86,757.1 333.01,753.56 347.16,732.81 361.32,739.9 375.47,738.13 389.62,735.11 403.77,747.88 417.92,763.84 432.08,841.87 446.23,927.88 460.38,845.42 474.53,817.04 488.68,867.59 502.84,847.55 516.99,865.81 531.14,854.29 545.29,791.33 559.44,781.58 573.6,789.56 587.75,797.18 601.9,785.12 616.05,769.16 630.2,764.2 644.36,766.5 658.51,773.06 672.66,774.84 686.81,776.61 700.96,770.94 715.12,780.69 729.27,792.22 743.42,1307.67 757.57,1185.66 771.73,1040.41 785.88,898.07 800.03,825.02 814.18,802.86 828.33,797.89 842.49,798.42 856.64,800.2 870.79,800.2 884.94,806.76 899.09,807.29 913.25,808.53 927.4,814.38 941.55,825.02 955.7,835.67 969.85,841.87 984.01,840.99 998.16,842.76 1012.31,843.29 1026.46,844.53 1040.61,852.51 1054.77,857.83 1068.92,844.53 1083.07,858.72 1097.22,861.92 1111.37,881.97 1125.53,936.65 1139.68,956.7 1153.83,933 1167.98,888.35 1182.13,1045.1 1196.29,899.29 1210.44,892 1224.59,920.25 1238.74,922.07 1252.89,905.67 1267.05,879.78 1281.2,877.96 1295.35,885.62 1309.5,881.06 1323.65,880.15 1337.81,875.23 1351.96,888.35 1366.11,890.17 1380.26,894.73 1394.42,904.75 1408.57,928.45"/>
<polyline stroke="#ff0000" points="318.86,774.84 333.01,771.29 347.16,750.54 361.32,754.98 375.47,754.09 389.62,752.32 403.77,763.49 417.92,778.03 432.08,848.97 446.23,937.64 460.38,856.06 474.53,831.23 488.68,880.89 502.84,857.48 516.99,875.57 531.14,864.04 545.29,804.63 559.44,793.99 573.6,799.31 587.75,808.53 601.9,796.65 616.05,784.24 630.2,778.03 644.36,778.03 658.51,784.24 672.66,787.78 686.81,789.2 700.96,783 715.12,789.56 729.27,801.08 743.42,1310.58 757.57,1190.31 771.73,1048.55 785.88,907.37 800.03,831.23 814.18,810.84 828.33,808.53 842.49,807.29 856.64,808.18 870.79,807.82 884.94,815.27 899.09,814.92 913.25,816.16 927.4,820.59 941.55,831.23 955.7,841.87 969.85,848.97 984.01,846.84 998.16,847.55 1012.31,847.55 1026.46,849.85 1040.61,859.25 1054.77,864.04 1068.92,850.74 1083.07,864.04 1097.22,864.66 1111.37,885.62 1125.53,938.47 1139.68,959.43 1153.83,934.83 1167.98,890.17 1182.13,1046.92 1196.29,902.93 1210.44,895.64 1224.59,922.98 1238.74,924.26 1252.89,906.58 1267.05,882.88 1281.2,880.51 1295.35,886.53 1309.5,882.88 1323.65,881.97 1337.81,875.59 1351.96,888.35 1366.11,894.73 1380.26,899.29 1394.42,905.67 1408.57,929.36"/>
</g>
<path d="M262.19 703.4H1404.74V1146.6" stroke="#7f7f7f" stroke-width="1.1"/>
<path d="M262.19 702.9V1146.6M318.86 1146.6V1165.1M495.76 1146.6V1156M672.66 1146.6V1165.1M849.56 1146.6V1156M1026.46 1146.6V1165.1M1203.36 1146.6V1156M1380.26 1146.6V1165.1" stroke="#000" stroke-width="3.6" stroke-linecap="round"/>
<path d="M262.19 1089.8H252.28M262.19 1031.7H242.37M262.19 973.6H252.28M262.19 915.5H242.37M262.19 857.4H252.28M262.19 799.3H242.37M262.19 741.2H252.28" stroke="#000" stroke-width="3.3" stroke-linecap="round"/>
<path d="M260.79 1146.6H1405.18" stroke="#000" stroke-width="3.1" stroke-linecap="butt"/>
</g>
<text class="b" transform="translate(262 1047.7) scale(1.075 1)" font-size="54.5" text-anchor="end">60</text>
<text class="b" transform="translate(262 931.5) scale(1.075 1)" font-size="54.5" text-anchor="end">80</text>
<text class="b" transform="translate(262 815.3) scale(1.075 1)" font-size="54.5" text-anchor="end">100</text>
<path transform="translate(262 815.3) scale(1.075 1)" fill="#fff" d="M-88.4 -6.66H-78.21V1H-88.4ZM-70.73 -6.66H-61.26V1H-70.73Z"/>
<text class="b" transform="translate(363.5 1222) scale(1.075 1)" font-size="54.5" text-anchor="middle">700</text>
<text class="b" transform="translate(766.83 1222) scale(1.075 1)" font-size="54.5" text-anchor="middle">750</text>
<text class="b" transform="translate(1170.17 1222) scale(1.075 1)" font-size="54.5" text-anchor="middle">800</text>
<text class="b" transform="translate(1573.5 1222) scale(1.075 1)" font-size="54.5" text-anchor="middle">850</text>
<text class="b" transform="translate(951.3 1321.6) scale(1.133 1)" font-size="61.5" text-anchor="middle">Wavelength (nm)</text>
<g font-size="61.8">
<text class="b" transform="translate(120.1 1085.4) scale(1.097 1) rotate(-90)">R(</text>
<text class="lam" stroke="#000" stroke-width="0.8" transform="translate(120.1 1020.19) scale(1.097 1) rotate(-90) scale(1.13 1)">λ</text>
<text class="b" transform="translate(120.1 986.33) scale(1.097 1) rotate(-90)">)*i(</text>
<text class="lam" stroke="#000" stroke-width="0.8" transform="translate(120.1 903.95) scale(1.097 1) rotate(-90) scale(1.13 1)">λ</text>
<text class="b" transform="translate(120.1 870.08) scale(1.097 1) rotate(-90)">)</text>
</g>
</g>
<g id="legend">
<g transform="scale(1.14 1)" fill="none">
<rect x="1416.54" y="764.45" width="315.04" height="156.75" fill="#fff" stroke="#0000a0" stroke-width="4.7" stroke-linejoin="round"/>
<path d="M1428.25 804.4H1543.25" stroke="#000" stroke-width="6.9" stroke-linecap="round"/>
<path d="M1428.25 868.5H1543.25" stroke="#ff0000" stroke-width="6.9" stroke-linecap="round"/>
</g>
<text class="r" transform="translate(1775 822.2) scale(1.054 1)" font-size="55.5" text-anchor="start">GZO-0</text>
<text class="r" transform="translate(1775 886.4) scale(1.054 1)" font-size="55.5" text-anchor="start">GZO-5</text>
</g>
</svg></body></html>
